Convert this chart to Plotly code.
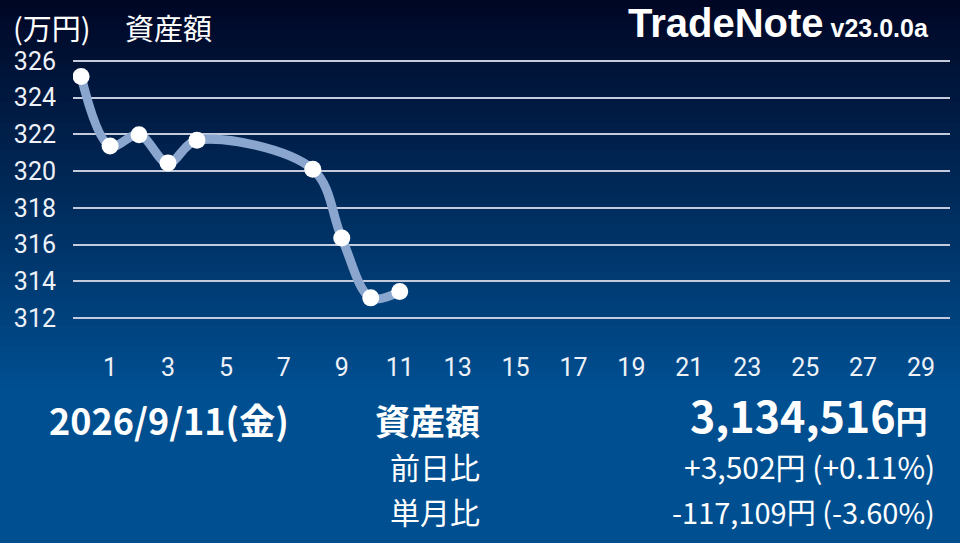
import plotly.graph_objects as go

# ---- data ----
days = [0, 1, 2, 3, 4, 8, 9, 10, 11]
values = [325.16, 321.37, 321.99, 320.44, 321.68, 320.10, 316.36, 313.10, 313.45]
x_ticks = list(range(1, 30, 2))
y_ticks = list(range(312, 327, 2))

unit_label = "(万円)"
title_label = "資産額"
brand = "TradeNote"
version = "v23.0.0a"
date_label = "2026/9/11(金)"
asset_label = "資産額"
asset_value = "3,134,516"
day_label = "前日比"
day_change = "+3,502円 (+0.11%)"
month_label = "単月比"
month_change = "-117,109円 (-3.60%)"

W, H = 960, 543
L, R, T, B = 73, 950, 50, 339

def px(x):
    return (x - L) / (R - L)

def py(y):
    return (B - y) / (B - T)

def lerp(c1, c2, t):
    return tuple(int(round(a + (b - a) * t)) for a, b in zip(c1, c2))

fig = go.Figure()
fig.add_trace(go.Scatter(
    x=days, y=values, mode="lines+markers",
    line=dict(color="#8aa6cf", width=9, shape="spline", smoothing=1.0),
    marker=dict(color="white", size=17, line=dict(width=0)),
    hoverinfo="skip", showlegend=False,
))

# background gradient strips
shapes = []
top_c = (0, 6, 36)
bot_c = (0, 79, 145)
n = 80
for i in range(n):
    y0 = H * i / n
    y1 = H * (i + 1) / n + 0.8
    t = min(1.0, ((y0 + y1) / 2) / 390)
    c = lerp(top_c, bot_c, t)
    shapes.append(dict(type="rect", xref="paper", yref="paper",
                       x0=px(-5), x1=px(W + 5), y0=py(y1), y1=py(y0),
                       fillcolor="rgb(%d,%d,%d)" % c, line=dict(width=0),
                       layer="below"))

jp = "Noto Sans CJK JP"
ann = []
def add(text, x, y, size, anchor="left", family=jp, color="white"):
    ann.append(dict(text=text, x=px(x), y=py(y), xref="paper", yref="paper",
                    xanchor=anchor, yanchor="middle", showarrow=False,
                    font=dict(family=family, size=size, color=color)))

add(unit_label, 11, 27, 29)
add(title_label, 123, 27, 29)
add("<b>%s</b><b><span style='font-size:25px'> %s</span></b>" % (brand, version),
    931, 23, 40, anchor="right", family="Liberation Sans")
add("<b>%s</b>" % date_label, 47, 419, 36)
add("<b>%s</b>" % asset_label, 482, 419, 35, anchor="right")
add("<b>%s<span style='font-size:32px'>円</span></b>" % asset_value, 930, 414, 43, anchor="right")
add(day_label, 482, 466, 30, anchor="right")
add(day_change, 937, 466, 30, anchor="right")
add(month_label, 482, 511, 30, anchor="right")
add(month_change, 937, 511, 29, anchor="right")

fig.update_layout(
    width=W, height=H,
    margin=dict(l=L, r=W - R, t=T, b=H - B, pad=0),
    paper_bgcolor="rgb(0,60,120)",
    plot_bgcolor="rgba(0,0,0,0)",
    shapes=shapes, annotations=ann,
    xaxis=dict(range=[-0.28, 30.0], tickvals=x_ticks, showgrid=False,
               zeroline=False, showline=False, ticks="outside", ticklen=6,
               tickcolor="rgba(0,0,0,0)",
               tickfont=dict(family="Roboto", size=25, color="#eef2f8")),
    yaxis=dict(range=[310.86, 326.6], tickvals=y_ticks, showgrid=True,
               gridcolor="#c3cbdc", gridwidth=2, zeroline=False, showline=False,
               ticks="outside", ticklen=11, tickcolor="rgba(0,0,0,0)",
               tickfont=dict(family="Roboto", size=25, color="#eef2f8")),
)

fig.write_html("out.html", config={"displayModeBar": False},
               post_script="document.body.style.margin='0px';")
